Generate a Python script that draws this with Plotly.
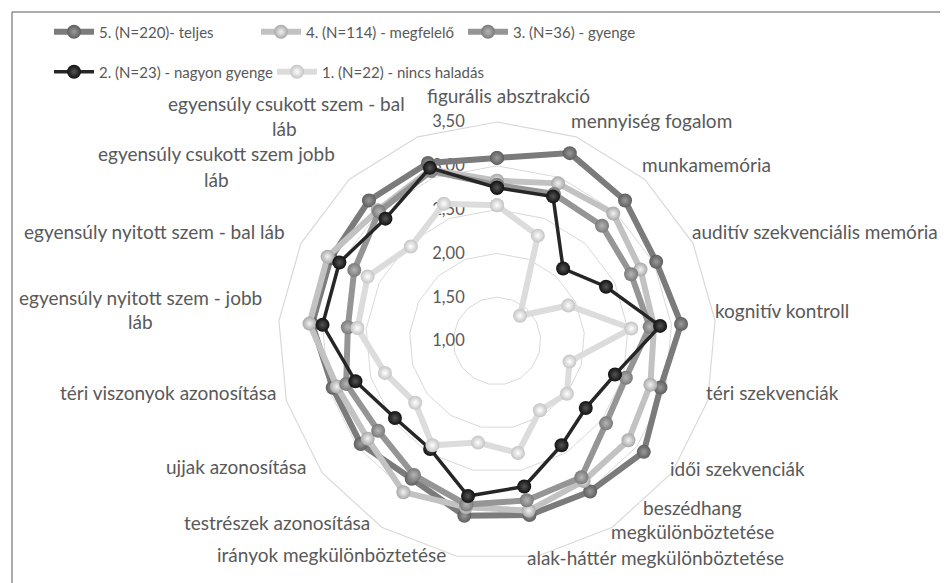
import plotly.graph_objects as go

categories = [
    "figurális absztrakció", "mennyiség fogalom", "munkamemória",
    "auditív szekvenciális memória", "kognitív kontroll", "téri szekvenciák",
    "idői szekvenciák", "beszédhang megkülönböztetése",
    "alak-háttér megkülönböztetése", "irányok megkülönböztetése",
    "testrészek azonosítása", "ujjak azonosítása", "téri viszonyok azonosítása",
    "egyensúly nyitott szem - jobb láb", "egyensúly nyitott szem - bal láb",
    "egyensúly csukott szem jobb láb", "egyensúly csukott szem - bal láb",
]
# category labels split into the lines shown in the chart
category_label_lines = [
    ["figurális absztrakció"], ["mennyiség fogalom"], ["munkamemória"],
    ["auditív szekvenciális memória"], ["kognitív kontroll"], ["téri szekvenciák"],
    ["idői szekvenciák"], ["beszédhang", "megkülönböztetése"],
    ["alak-háttér megkülönböztetése"], ["irányok megkülönböztetése"],
    ["testrészek azonosítása"], ["ujjak azonosítása"], ["téri viszonyok azonosítása"],
    ["egyensúly nyitott szem - jobb", "láb"], ["egyensúly nyitott szem - bal láb"],
    ["egyensúly csukott szem jobb", "láb"], ["egyensúly csukott szem - bal", "láb"],
]

series_names = [
    "5. (N=220)- teljes",
    "4. (N=114) - megfelelő",
    "3. (N=36) - gyenge",
    "2. (N=23) - nagyon gyenge",
    "1. (N=22) - nincs haladás",
]

s5_teljes = [3.09, 3.30, 3.17, 3.03, 3.11, 2.94, 3.10, 3.02, 3.02, 3.03, 2.85, 2.95, 2.95, 3.12, 3.12, 3.17, 3.18]
s4_megfelelo = [2.83, 2.93, 2.97, 2.83, 2.80, 2.82, 2.88, 2.88, 2.97, 2.93, 3.03, 2.85, 2.90, 3.15, 3.16, 3.02, 3.10]
s3_gyenge = [2.78, 2.80, 2.78, 2.71, 2.75, 2.53, 2.56, 2.83, 2.85, 2.90, 2.80, 2.70, 2.79, 2.71, 2.82, 3.00, 3.08]
s2_nagyon_gyenge = [2.75, 2.77, 2.12, 2.39, 2.87, 2.40, 2.27, 2.40, 2.69, 2.80, 2.45, 2.46, 2.68, 3.00, 3.01, 2.89, 3.12]
s1_nincs_haladas = [2.55, 2.29, 1.39, 1.91, 2.54, 1.86, 2.00, 1.93, 2.30, 2.18, 2.40, 2.17, 2.33, 2.60, 2.65, 2.46, 2.68]

radial_ticks = [1.0, 1.5, 2.0, 2.5, 3.0, 3.5]
radial_ticktext = ["1,00", "1,50", "2,00", "2,50", "3,00", "3,50"]

all_series = [s5_teljes, s4_megfelelo, s3_gyenge, s2_nagyon_gyenge, s1_nincs_haladas]
line_colors = ["#7b7b7b", "#c2c2c2", "#959595", "#262626", "#dcdcdc"]
marker_colors = ["#5e5e5e", "#a8a8a8", "#7a7a7a", "#111111", "#c4c4c4"]
marker_centers = ["#9a9a9a", "#f2f2f2", "#b5b5b5", "#555555", "#ffffff"]
line_widths = [6, 6, 6, 3.5, 6]
legend_ids = ["legend", "legend", "legend", "legend2", "legend2"]

fig = go.Figure()
for name, vals, lc, mc, cc, lw, lg in zip(series_names, all_series, line_colors,
                                          marker_colors, marker_centers, line_widths, legend_ids):
    fig.add_trace(go.Scatterpolar(
        r=vals + vals[:1],
        theta=categories + categories[:1],
        mode="lines+markers",
        name=name,
        legend=lg,
        line=dict(color=lc, width=lw),
        marker=dict(size=14, color=mc,
                    gradient=dict(type="radial", color=cc),
                    line=dict(width=0)),
    ))

W, H = 948, 583
cx, cy, R = 489, 333, 219
FONT = "Lato, Open Sans, sans-serif"
TXT = "#595959"

# per-line label placement (pixel x, pixel y, xanchor)
label_line_pos = [
    [(500, 88, "center")], [(561, 113, "left")], [(632, 156, "left")],
    [(682, 223, "left")], [(705, 302, "left")], [(696, 384, "left")],
    [(660, 460, "left")], [(684, 499, "center"), (684, 523, "center")],
    [(517, 549, "left")], [(440, 546, "right")],
    [(364, 514, "right")], [(300, 458, "right")], [(270, 384, "right")],
    [(256, 289, "right"), (132, 313, "center")], [(279, 223, "right")],
    [(329, 146, "right"), (208, 171, "center")], [(399, 96, "right"), (276, 120, "center")],
]
annotations = []
for lines, poss in zip(category_label_lines, label_line_pos):
    for txt, (px, py, xa) in zip(lines, poss):
        annotations.append(dict(
            text=txt, x=px / W, y=1 - py / H, xref="paper", yref="paper",
            xanchor=xa, yanchor="middle", showarrow=False,
            font=dict(family=FONT, size=19, color=TXT)))

fig.update_layout(
    width=W, height=H,
    margin=dict(l=0, r=0, t=0, b=0),
    paper_bgcolor="white",
    font=dict(family=FONT, size=15, color=TXT),
    polar=dict(
        domain=dict(x=[(cx - R) / W, (cx + R) / W],
                    y=[(H - cy - R) / H, (H - cy + R) / H]),
        bgcolor="white",
        gridshape="linear",
        radialaxis=dict(
            range=[1, 3.5], tickvals=radial_ticks, ticktext=radial_ticktext,
            angle=90, tickangle=90, side="counterclockwise",
            showline=False, ticks="outside", ticklen=26, tickcolor="rgba(0,0,0,0)",
            gridcolor="#d9d9d9", gridwidth=1.2,
            layer="below traces",
            tickfont=dict(family=FONT, size=16.5, color=TXT),
        ),
        angularaxis=dict(
            rotation=90, direction="clockwise",
            tickvals=categories, showticklabels=False,
            showgrid=False, ticks="",
            showline=True, linecolor="#d9d9d9", linewidth=1.2,
            layer="below traces",
        ),
    ),
    legend=dict(orientation="h", x=41 / W, y=1 - 24 / H, xanchor="left", yanchor="middle",
                entrywidth=152, itemwidth=40, font=dict(family=FONT, size=15, color=TXT),
                bgcolor="rgba(0,0,0,0)"),
    legend2=dict(orientation="h", x=41 / W, y=1 - 64 / H, xanchor="left", yanchor="middle",
                 entrywidth=168, itemwidth=40, font=dict(family=FONT, size=15, color=TXT),
                 bgcolor="rgba(0,0,0,0)"),
    annotations=annotations,
    shapes=[dict(type="rect", xref="paper", yref="paper",
                 x0=4 / W, x1=1 - 4 / W, y0=4 / H, y1=1 - 4 / H,
                 line=dict(color="#595959", width=1), fillcolor="rgba(0,0,0,0)",
                 layer="below")],
)

fig.write_html("out.html")
